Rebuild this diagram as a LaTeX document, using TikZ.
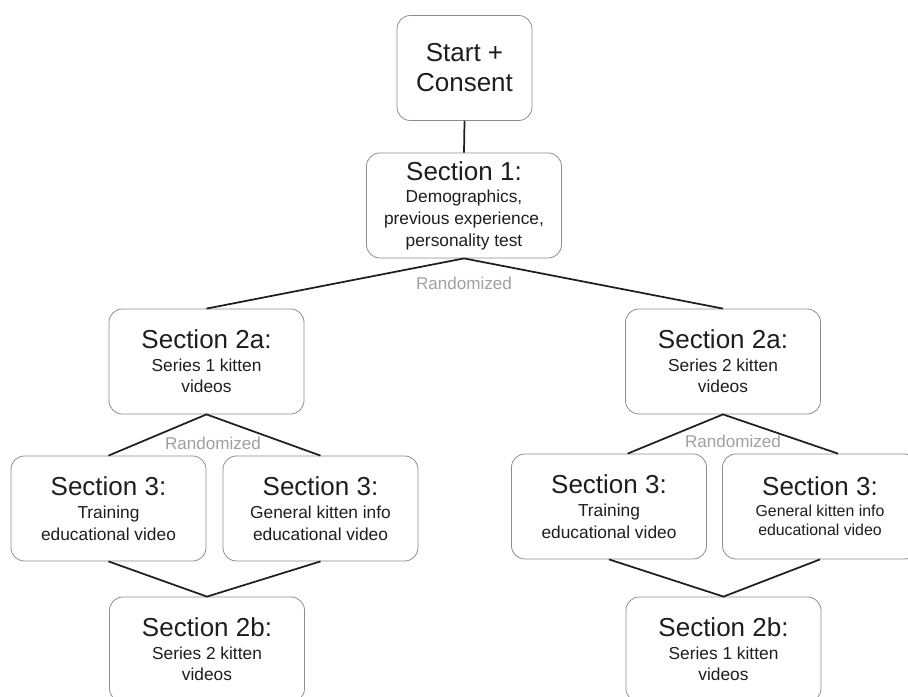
\documentclass[tikz,border=0pt]{standalone}
\usepackage{fontspec}
\setmainfont{Liberation Sans}
\usepackage{tikz}
\usetikzlibrary{positioning}
\usepackage{xcolor}
\definecolor{boxgray}{RGB}{140, 140, 140}
\definecolor{linedark}{RGB}{30, 30, 30}
\definecolor{randgray}{RGB}{160, 160, 160}
\newcommand{\headfont}{\fontsize{19.5}{22.5}\selectfont}
\newcommand{\subfont}{\fontsize{13}{16.3}\selectfont}

\begin{document}
\begin{tikzpicture}[x=0.75pt, y=-0.75pt,
    secbox/.style={rectangle, rounded corners=10pt, draw=boxgray, line width=0.6pt, fill=white, minimum width=146.25pt, minimum height=78.75pt, inner sep=0pt, font=\subfont, align=center, text=linedark},
    startbox/.style={secbox, minimum width=101.25pt, font=\headfont},
    randtag/.style={font=\fontsize{12.8}{15}\selectfont, text=randgray, inner sep=0pt},
    link/.style={draw=linedark, line width=1.3pt},
]
\useasboundingbox (0,0) rectangle (908,697);
\clip (0,0) rectangle (908,697);

\node[startbox] (start) at (464.5,68) {Start +\\Consent};
\node[secbox]   (sec1)  at (464,205.5)  {{\headfont Section 1:}\\[0.5pt]Demographics,\\previous experience,\\personality test};

\node[secbox] (leftA)  at (206.5,361.5) {{\headfont Section 2a:}\\[0.5pt]Series 1 kitten\\videos};
\node[secbox] (leftT)  at (108.5,508.5) {{\headfont Section 3:}\\[1pt]Training\\educational video};
\node[secbox] (leftG)  at (320.5,508.5) {{\headfont Section 3:}\\[1pt]General kitten info\\educational video};
\node[secbox] (leftB)  at (207,649.5)   {{\headfont Section 2b:}\\[0.5pt]Series 2 kitten\\videos};

\node[secbox] (rightA) at (723,361.5)   {{\headfont Section 2a:}\\[0.5pt]Series 2 kitten\\videos};
\node[secbox] (rightT) at (609,506.5)   {{\headfont Section 3:}\\[1pt]Training\\educational video};
\node[secbox, font=\fontsize{11.9}{14.6}\selectfont] (rightG) at (820,506.5) {{\headfont Section 3:}\\[1pt]General kitten info\\educational video};
\node[secbox] (rightB) at (723.5,649.5) {{\headfont Section 2b:}\\[0.5pt]Series 1 kitten\\videos};

\node[randtag] (rand1) at (464,283) {Randomized};
\node[randtag] (rand2) at (213,443) {Randomized};
\node[randtag] (rand3) at (733,441) {Randomized};

\draw[link] (start.south) -- (sec1.north);
\draw[link] (leftA.north) -- (sec1.south) -- (rightA.north);

\draw[link] (leftT.north) -- (leftA.south) -- (leftG.north);
\draw[link] (leftT.south) -- (leftB.north) -- (leftG.south);

\draw[link] ([xshift=14pt]rightT.north) -- (rightA.south) -- ([xshift=13.5pt]rightG.north);
\draw[link] (rightT.south) -- (rightB.north) -- (rightG.south);

\end{tikzpicture}
\end{document}
